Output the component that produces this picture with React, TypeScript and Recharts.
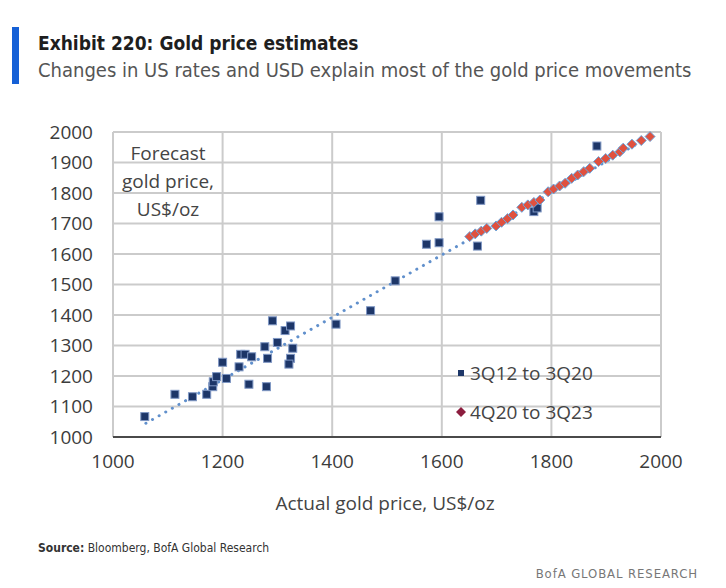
import React from 'react';
import { ScatterChart, Scatter, XAxis, YAxis, CartesianGrid } from 'recharts';

// axis ticks
const xTicks = [1000, 1200, 1400, 1600, 1800, 2000];
const yTicks = [1000, 1100, 1200, 1300, 1400, 1500, 1600, 1700, 1800, 1900, 2000];

// 3Q12 to 3Q20: actual vs forecast gold price
const histActual = [
  1058, 1113, 1145, 1171, 1182, 1183, 1189, 1207, 1200, 1230, 1233, 1241, 1253, 1248, 1277, 1282, 1280,
  1291, 1300, 1314, 1324, 1328, 1324, 1321, 1407, 1470, 1515, 1572, 1595, 1595, 1671, 1665, 1768, 1774, 1883,
];
const histForecast = [
  1067, 1140, 1132, 1140, 1165, 1181, 1198, 1192, 1245, 1230, 1271, 1271, 1263, 1173, 1296, 1258, 1165,
  1381, 1310, 1349, 1364, 1291, 1258, 1239, 1370, 1414, 1512, 1632, 1637, 1722, 1776, 1626, 1739, 1751, 1954,
];

// 4Q20 to 3Q23
const recentActual = [
  1651, 1661, 1672, 1682, 1699, 1709, 1720, 1730, 1746, 1757, 1768, 1779, 1794, 1804, 1815, 1825,
  1837, 1848, 1859, 1870, 1886, 1899, 1912, 1925, 1931, 1947, 1964, 1980,
];
const recentForecast = [
  1657, 1666, 1675, 1684, 1692, 1704, 1716, 1728, 1753, 1761, 1769, 1777, 1804, 1813, 1823, 1832,
  1848, 1859, 1870, 1881, 1903, 1913, 1924, 1935, 1947, 1960, 1972, 1985,
];

// fitted line
const trendActual = [1060, 1980];
const trendForecast = [1045, 1985];

const histData = histActual.map((x, i) => ({ x, y: histForecast[i] }));
const recentData = recentActual.map((x, i) => ({ x, y: recentForecast[i] }));
const trendData = trendActual.map((x, i) => ({ x, y: trendForecast[i] }));

const NAVY = '#1d3668';
const RED = '#e0513f';

const Square = (props: any) => {
  const { cx, cy } = props;
  if (cx == null || cy == null) return null;
  return <rect x={cx - 4} y={cy - 4} width={8} height={8} fill={NAVY} stroke="#7f97c4" strokeWidth={1} />;
};

const Diamond = (props: any) => {
  const { cx, cy } = props;
  if (cx == null || cy == null) return null;
  return (
    <polygon
      points={`${cx},${cy - 5} ${cx + 5},${cy} ${cx},${cy + 5} ${cx - 5},${cy}`}
      fill={RED}
      stroke="#6aa6de"
      strokeWidth={1}
    />
  );
};

const NoDot = () => <g />;

const tickStyle = { fontSize: 19, fill: '#3c3c3c', fontFamily: "'Open Sans', sans-serif" };
const narrow = "'Liberation Sans Narrow', 'DejaVu Sans Condensed', sans-serif";

export default function App() {
  return (
    <div
      style={{
        position: 'absolute',
        left: 0,
        top: 0,
        width: 726,
        height: 588,
        background: '#fff',
        fontFamily: "'Open Sans', sans-serif",
        color: '#3c3c3c',
      }}
    >
      <div style={{ position: 'absolute', left: 12, top: 27, width: 7, height: 57, background: '#1560d6' }} />
      <div
        style={{
          position: 'absolute',
          left: 38,
          top: 32,
          fontFamily: narrow,
          fontWeight: 700,
          fontSize: 19,
          color: '#1e1e1e',
          whiteSpace: 'nowrap',
        }}
      >
        Exhibit 220: Gold price estimates
      </div>
      <div
        style={{
          position: 'absolute',
          left: 38,
          top: 58,
          fontFamily: narrow,
          fontSize: 20,
          color: '#555',
          whiteSpace: 'nowrap',
        }}
      >
        Changes in US rates and USD explain most of the gold price movements
      </div>

      <ScatterChart width={726} height={588} margin={{ top: 132, right: 65, bottom: 111, left: 53 }}>
        <CartesianGrid stroke="#cbcbcb" strokeWidth={2} />
        <XAxis
          type="number"
          dataKey="x"
          domain={[1000, 2000]}
          ticks={xTicks}
          tick={tickStyle}
          tickLine={false}
          tickSize={0}
          tickMargin={18}
          axisLine={{ stroke: '#4a4a4a', strokeWidth: 2 }}
          height={40}
        />
        <YAxis
          type="number"
          dataKey="y"
          domain={[1000, 2000]}
          ticks={yTicks}
          tick={tickStyle}
          tickLine={false}
          tickSize={0}
          tickMargin={20}
          axisLine={false}
          width={60}
        />
        <Scatter
          data={trendData}
          line={{ stroke: '#6190cc', strokeWidth: 3, strokeDasharray: '0.1 7.5', strokeLinecap: 'round' }}
          shape={NoDot}
          isAnimationActive={false}
        />
        <Scatter data={histData} shape={Square} isAnimationActive={false} />
        <Scatter data={recentData} shape={Diamond} isAnimationActive={false} />
      </ScatterChart>

      <div
        style={{
          position: 'absolute',
          left: 108,
          top: 139,
          width: 120,
          textAlign: 'center',
          fontSize: 19,
          lineHeight: '28px',
          color: '#444',
        }}
      >
        Forecast
        <br />
        gold price,
        <br />
        US$/oz
      </div>

      <div style={{ position: 'absolute', left: 455, top: 360, fontSize: 19, lineHeight: '26px', color: '#444' }}>
        <div style={{ display: 'flex', alignItems: 'center', height: 26 }}>
          <svg width={12} height={12} style={{ marginRight: 3 }}>
            <rect x={3} y={3} width={6} height={6} fill={NAVY} />
          </svg>
          3Q12 to 3Q20
        </div>
        <div style={{ display: 'flex', alignItems: 'center', height: 26, marginTop: 13 }}>
          <svg width={12} height={12} style={{ marginRight: 3 }}>
            <polygon points="6,1 11,6 6,11 1,6" fill="#8c1d3e" />
          </svg>
          4Q20 to 3Q23
        </div>
      </div>

      <div
        style={{
          position: 'absolute',
          left: 0,
          width: 770,
          top: 490,
          textAlign: 'center',
          fontSize: 19,
          color: '#444',
        }}
      >
        Actual gold price, US$/oz
      </div>

      <div
        style={{
          position: 'absolute',
          left: 38,
          top: 541,
          fontFamily: narrow,
          fontSize: 12,
          color: '#333',
        }}
      >
        <b>Source:</b> Bloomberg, BofA Global Research
      </div>
      <div
        style={{
          position: 'absolute',
          right: 28,
          top: 566,
          fontFamily: narrow,
          fontSize: 13,
          color: '#777',
          letterSpacing: 0.9,
        }}
      >
        BofA GLOBAL RESEARCH
      </div>
    </div>
  );
}
